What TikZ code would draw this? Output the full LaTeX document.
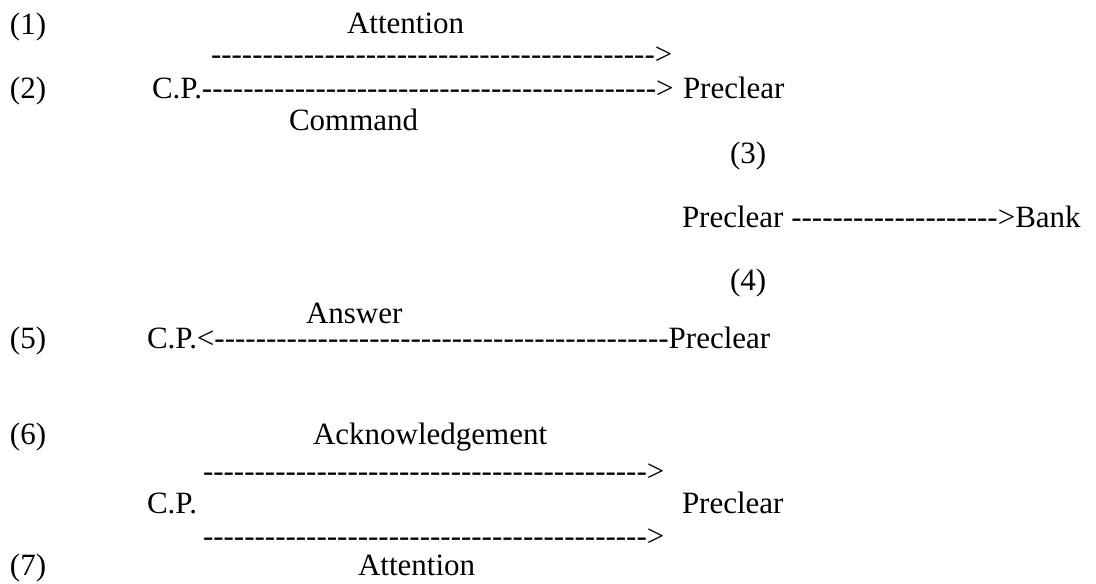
\documentclass[tikz,border=0pt]{standalone}
\usepackage{fontspec}
\setmainfont{Liberation Serif}[Ligatures=TeXOff]
\newcount\myhyc
\newcommand\myhy[1]{\myhyc=0 \loop\ifnum\myhyc<#1 -\advance\myhyc by 1 \repeat}
\begin{document}
\begin{tikzpicture}[x=0.5pt,y=-0.5pt,
  lbl/.style={inner sep=0pt,outer sep=0pt,anchor=base west,font=\fontsize{15.5pt}{18pt}\selectfont}]
\fill[white] (0,0) rectangle (1096,583);
\useasboundingbox (0,0) rectangle (1096,583);
% row 1
\node[lbl] (n1) at (10,35) {(1)};
\node[lbl] (att1) at (347,34) {Attention};
\node[lbl] (d1) at (211,65) {\myhy{43}>};
% row 2
\node[lbl] (n2) at (10,98) {(2)};
\node[lbl] (cp2) at (152,98) {C.P.};
\node[lbl] (d2) at (cp2.base east) {\myhy{44}>};
\node[lbl] (pre2) at (683,98) {Preclear};
\node[lbl] (cmd) at (289,130) {Command};
% row 3
\node[lbl] (n3) at (730,163) {(3)};
\node[lbl] (pre3) at (682,227) {Preclear};
\node[lbl] (d3) at (pre3.base east) {\ \myhy{20}>};
\node[lbl] (bank) at (d3.base east) {Bank};
\node[lbl] (n4) at (730,290) {(4)};
% row 5
\node[lbl] (ans) at (306,323) {Answer};
\node[lbl] (n5) at (10,348) {(5)};
\node[lbl] (cp5) at (147,348) {C.P.};
\node[lbl] (d5) at (cp5.base east) {<\myhy{44}};
\node[lbl] (pre5) at (d5.base east) {Preclear};
% row 6
\node[lbl] (n6) at (10,444) {(6)};
\node[lbl] (ack) at (313,444) {Acknowledgement};
\node[lbl] (d6a) at (203,481) {\myhy{43}>};
\node[lbl] (cp6) at (147,513) {C.P.};
\node[lbl] (pre6) at (682,513) {Preclear};
\node[lbl] (d6b) at (203,546) {\myhy{43}>};
% row 7
\node[lbl] (n7) at (10,575) {(7)};
\node[lbl] (att7) at (358,575) {Attention};
\end{tikzpicture}
\end{document}
